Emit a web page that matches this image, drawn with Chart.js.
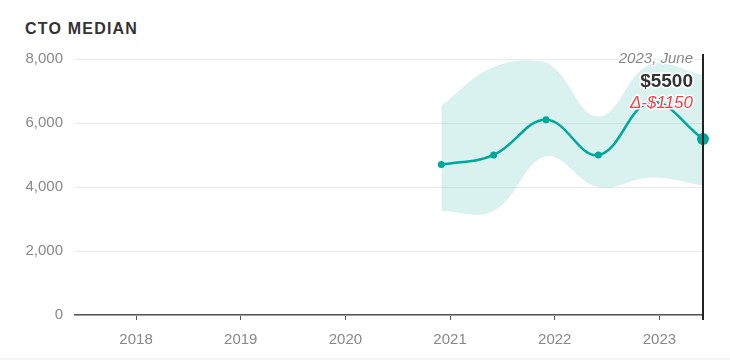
<!DOCTYPE html>
<html>
<head>
<meta charset="utf-8">
<script src="https://cdn.jsdelivr.net/npm/chart.js@4/dist/chart.umd.min.js"></script>
<style>
  html, body { margin: 0; padding: 0; background: #fff; }
  body { width: 730px; height: 360px; position: relative; overflow: hidden; font-family: "Liberation Sans", Arial, sans-serif; }
  .title { position: absolute; left: 25px; top: 20px; font-size: 16px; font-weight: 700; letter-spacing: 1.2px; color: #333; }
  .wrap { position: absolute; left: 0; top: 0; width: 730px; height: 358px; }
  .foot { position: absolute; left: 0; top: 358px; width: 730px; height: 2px; background: #f2f2f2; }
</style>
</head>
<body>
<div class="title">CTO MEDIAN</div>
<div class="wrap"><canvas id="chart"></canvas></div>
<div class="foot"></div>
<script>
// data
const months = ['2020-12', '2021-06', '2021-12', '2022-06', '2022-12', '2023-06'];
const median = [4700, 5000, 6100, 5000, 6650, 5500];
const upper = [6550, 7750, 7900, 6200, 7850, 7500];
const lower = [3250, 3250, 4950, 4000, 4300, 4050];
const yearTicks = [2018, 2019, 2020, 2021, 2022, 2023];
const rangeStart = '2017-06';
const rangeEnd = '2023-06';

const teal = '#00a89c';
const fontName = '"Liberation Sans", Arial, sans-serif';
const toYear = s => { const [y, m] = s.split('-').map(Number); return y + (m - 1) / 12; };
const pts = arr => arr.map((v, i) => ({ x: toYear(months[i]), y: v }));

const lastIdx = median.length - 1;
const delta = median[lastIdx] - median[lastIdx - 1];

const markerPlugin = {
  id: 'marker',
  afterDatasetsDraw(chart) {
    const { ctx, chartArea, scales } = chart;
    const x = scales.x.getPixelForValue(toYear(months[lastIdx]));
    ctx.save();
    ctx.strokeStyle = '#222';
    ctx.lineWidth = 2;
    ctx.beginPath();
    ctx.moveTo(x, chartArea.top - 5);
    ctx.lineTo(x, chartArea.bottom + 5);
    ctx.stroke();

    const tx = x - 10;
    ctx.textAlign = 'right';
    ctx.textBaseline = 'middle';
    ctx.lineJoin = 'round';
    ctx.strokeStyle = '#fff';
    ctx.lineWidth = 3;
    const lines = [
      { t: '2023, June', f: 'italic 15px ' + fontName, c: '#888', y: chartArea.top },
      { t: '$' + median[lastIdx], f: 'bold 19px ' + fontName, c: '#333', y: chartArea.top + 23 },
      { t: 'Δ-$' + Math.abs(delta), f: 'italic 17px ' + fontName, c: '#f0424d', y: chartArea.top + 44 }
    ];
    lines.forEach(l => {
      ctx.font = l.f;
      ctx.strokeText(l.t, tx, l.y);
      ctx.fillStyle = l.c;
      ctx.fillText(l.t, tx, l.y);
    });
    ctx.restore();
  }
};

new Chart(document.getElementById('chart'), {
  type: 'line',
  data: {
    datasets: [
      {
        data: pts(median),
        borderColor: teal,
        backgroundColor: teal,
        borderWidth: 2.5,
        tension: 0.4,
        pointRadius: median.map((v, i) => i === lastIdx ? 6 : 3.5),
        pointBackgroundColor: teal,
        pointBorderWidth: 0,
        fill: false,
        clip: false,
        order: 0
      },
      {
        data: pts(upper),
        borderWidth: 0,
        pointRadius: 0,
        tension: 0.4,
        fill: '+1',
        backgroundColor: 'rgba(0,168,156,0.15)',
        clip: false,
        order: 1
      },
      {
        data: pts(lower),
        borderWidth: 0,
        pointRadius: 0,
        tension: 0.4,
        fill: false,
        clip: false,
        order: 1
      }
    ]
  },
  options: {
    responsive: true,
    maintainAspectRatio: false,
    animation: false,
    events: [],
    layout: { padding: { top: 59, right: 27, left: 0, bottom: 0 } },
    plugins: { legend: { display: false }, tooltip: { enabled: false } },
    scales: {
      x: {
        type: 'linear',
        min: toYear(rangeStart),
        max: toYear(rangeEnd),
        afterBuildTicks: s => { s.ticks = yearTicks.map(v => ({ value: v })); },
        afterFit: s => { s.height = 43; },
        grid: { drawOnChartArea: false, drawTicks: true, tickLength: 5, color: '#555' },
        border: { color: '#555', width: 1.5 },
        ticks: {
          color: '#888',
          font: { family: fontName, size: 15 },
          padding: 11,
          maxRotation: 0,
          callback: v => String(v)
        }
      },
      y: {
        min: 0,
        max: 8000,
        afterFit: s => { s.width = 75; },
        grid: { color: '#ebebeb', drawTicks: false },
        border: { display: false },
        ticks: {
          stepSize: 2000,
          color: '#888',
          font: { family: fontName, size: 15 },
          padding: 12,
          callback: v => v.toLocaleString('en-US')
        }
      }
    }
  },
  plugins: [markerPlugin]
});
</script>
</body>
</html>
